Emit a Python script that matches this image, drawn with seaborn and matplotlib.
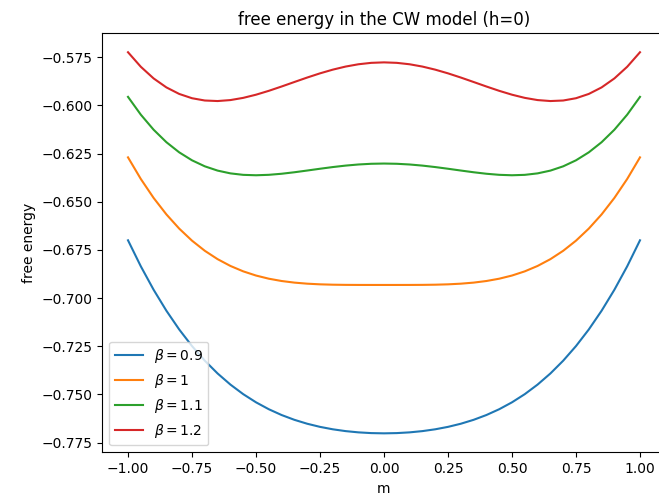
import pandas as pd
import seaborn as sns
import matplotlib.pyplot as plt

# values for m >= 0 (curves are symmetric in m)
m_half = [0.0, 0.05, 0.1, 0.15, 0.2, 0.25, 0.3, 0.35, 0.4, 0.45, 0.5,
          0.55, 0.6, 0.65, 0.7, 0.75, 0.8, 0.85, 0.9, 0.95, 1.0]

half_09 = [-0.770164, -0.770038, -0.769658, -0.769008, -0.768068, -0.766805,
           -0.765181, -0.763150, -0.760660, -0.757651, -0.754060, -0.749818,
           -0.744853, -0.739094, -0.732457, -0.724871, -0.716257, -0.706536,
           -0.695633, -0.683470, -0.669976]
half_10 = [-0.693147, -0.693147, -0.693139, -0.693105, -0.693015, -0.692827,
           -0.692488, -0.691936, -0.691101, -0.689904, -0.688262, -0.686085,
           -0.683282, -0.679759, -0.675417, -0.670163, -0.663901, -0.656536,
           -0.647977, -0.638137, -0.626928]
half_11 = [-0.630134, -0.630258, -0.630623, -0.631203, -0.631959, -0.632834,
           -0.633761, -0.634657, -0.635433, -0.635987, -0.636214, -0.636002,
           -0.635235, -0.633799, -0.631577, -0.628454, -0.624318, -0.619060,
           -0.612575, -0.604764, -0.595530]
half_12 = [-0.577623, -0.577872, -0.578608, -0.579800, -0.581396, -0.583323,
           -0.585495, -0.587808, -0.590148, -0.592390, -0.594402, -0.596049,
           -0.597192, -0.597694, -0.597418, -0.596231, -0.594006, -0.590619,
           -0.585955, -0.579904, -0.572364]

labels = [r"$\beta=0.9$", r"$\beta=1$", r"$\beta=1.1$", r"$\beta=1.2$"]

# mirror to m in [-1, 1]
m = [-v for v in m_half[:0:-1]] + m_half
series = [h[:0:-1] + h for h in (half_09, half_10, half_11, half_12)]

fig = plt.figure(figsize=(6.59, 4.99), dpi=100)
ax = fig.add_axes([0.1554, 0.0934, 0.8546, 0.8401])

colors = sns.color_palette("tab10", 4)
for lab, vals, c in zip(labels, series, colors):
    df = pd.DataFrame({"m": m, "f": vals})
    sns.lineplot(data=df, x="m", y="f", ax=ax, color=c, label=lab, linewidth=1.5)

ax.set_title("free energy in the CW model (h=0)")
ax.set_xlabel("m")
ax.set_ylabel("free energy")
ax.legend(loc="lower left")

fig.savefig("out.png", dpi=100)
